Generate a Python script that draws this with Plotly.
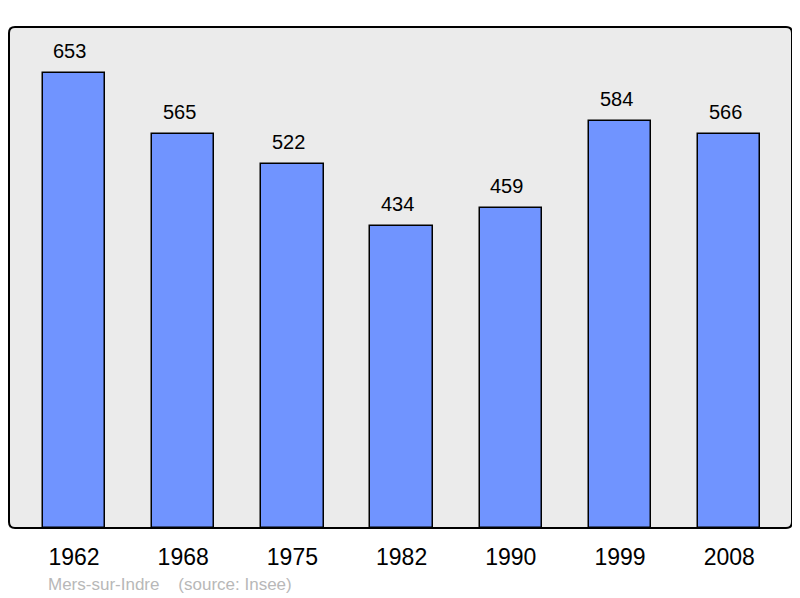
import plotly.graph_objects as go

# Daten
years = ["1962", "1968", "1975", "1982", "1990", "1999", "2008"]
population = [653, 565, 522, 434, 459, 584, 566]
footer = "Mers-sur-Indre    (source: Insee)"

pos = list(range(len(years)))

# Plotbereich in Pixeln (Seite hat 8px Rand)
PW, PH = 783, 501

fig = go.Figure()

fig.add_trace(
    go.Bar(
        x=pos,
        y=population,
        width=0.57,
        marker=dict(color="#7094ff", line=dict(color="black", width=1.5)),
        hoverinfo="skip",
    )
)

# Werte über den Balken
for xi, val in zip(pos, population):
    fig.add_annotation(
        x=xi, y=val, text=str(val), showarrow=False,
        yanchor="bottom", yshift=9, xshift=-4,
        font=dict(size=20, color="black"),
    )

# Quelle unten links
fig.add_annotation(
    xref="paper", yref="paper",
    x=(46 - 9) / PW, y=-(584 - 528) / PH,
    text=footer, showarrow=False, xanchor="left", yanchor="middle",
    font=dict(size=17, color="#b8b8b8"),
)

# Rahmen mit abgerundeten Ecken
rx, ry = 6 / PW, 6 / PH
path = (
    f"M {rx},0 L {1 - rx},0 Q 1,0 1,{ry} L 1,{1 - ry} Q 1,1 {1 - rx},1 "
    f"L {rx},1 Q 0,1 0,{1 - ry} L 0,{ry} Q 0,0 {rx},0 Z"
)
fig.add_shape(
    type="path", xref="paper", yref="paper", path=path,
    line=dict(color="black", width=2),
    layer="above",
)

fig.update_layout(
    width=792,
    height=590,
    margin=dict(l=1, r=8, t=19, b=70),
    paper_bgcolor="white",
    plot_bgcolor="#ebebeb",
    font=dict(family="Liberation Sans, Arial, sans-serif", color="black"),
    showlegend=False,
    bargap=0,
)

fig.update_xaxes(
    range=[-0.595, 6.575],
    tickvals=pos,
    ticktext=years,
    tickfont=dict(size=23),
    showgrid=False,
    zeroline=False,
    ticks="",
    ticklabelstandoff=13,
)
fig.update_yaxes(
    range=[0, 719],
    showgrid=False,
    zeroline=False,
    showticklabels=False,
)

fig.write_html("out.html")
